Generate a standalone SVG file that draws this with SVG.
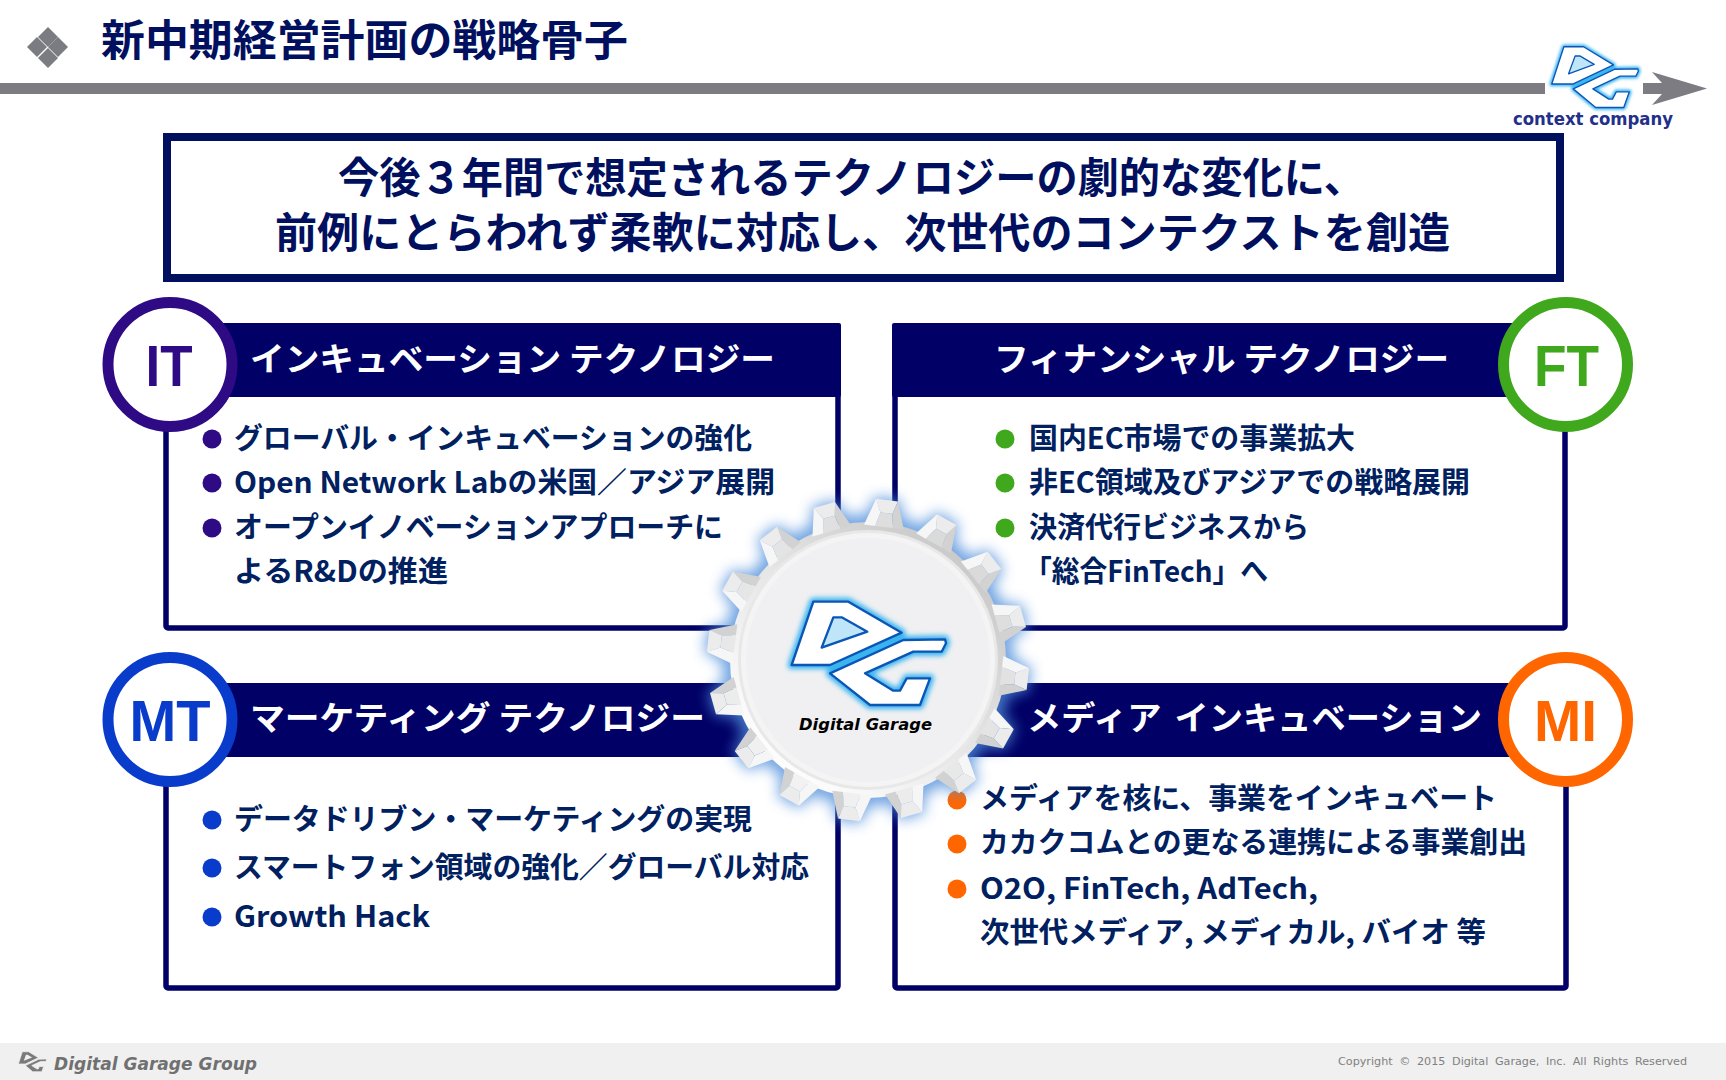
<svg xmlns="http://www.w3.org/2000/svg" width="1726" height="1080" viewBox="0 0 1726 1080">
<style>
text{font-family:"Noto Sans CJK JP","Noto Sans",sans-serif;font-weight:700}
.head{fill:#00105e;font-size:42px}
.hdr{fill:#fff;font-size:33px}
.li{fill:#002060;font-size:29px}
.badge{font-family:"Liberation Sans",Arial,sans-serif;font-size:57px;text-anchor:middle}
.panel{fill:#fff;stroke:#000066;stroke-width:5.5}
.band{fill:#000066}
.ring{fill:#fff;stroke-width:11}
.it{fill:#2e0a85;stroke:#2e0a85}.ft{fill:#3fa81c;stroke:#3fa81c}.mt{fill:#0a3ccc;stroke:#0a3ccc}.mi{fill:#ff6600;stroke:#ff6600}
.ring.it,.ring.ft,.ring.mt,.ring.mi{fill:#fff}
.t{stroke:none}
.dot{stroke:none}
</style>
<defs>
<filter id="blur8" x="-30%" y="-30%" width="160%" height="160%"><feGaussianBlur stdDeviation="7"/></filter>
<filter id="blur3" x="-20%" y="-20%" width="140%" height="140%"><feGaussianBlur stdDeviation="8"/></filter>
<linearGradient id="rim" x1="0.85" y1="0.1" x2="0.15" y2="0.9"><stop offset="0" stop-color="#c8c8c8"/><stop offset="0.5" stop-color="#e6e6e6"/><stop offset="1" stop-color="#ffffff"/></linearGradient>
<polygon id="sil" points="-20,-134 -11,-161 11,-161 20,-134"/>
<g id="tooth">
<polygon points="-20,-134 -11,-161 -5,-148 -9,-134" fill="#f6f6f6"/>
<polygon points="11,-161 20,-134 9,-134 7,-148" fill="#d2d2d2"/>
<polygon points="-11,-161 11,-161 7,-148 -5,-148" fill="#ececec"/>
<polygon points="-9,-134 -5,-148 7,-148 9,-134"/>
</g>
<path id="logoD" d="M400 365H505L665 458L450 555H335Z"/>
<path id="logoG" d="M670 480L795 478L798 490L785 515H700L555 580L640 632H660L680 595H750L720 675H570L450 580Z"/>
<path id="logoH" d="M460 412H485L562 455L425 503Z"/>
<g id="logoBlue">
<g fill="#39b4f0" stroke="#39b4f0" stroke-width="24" stroke-linejoin="round" filter="url(#blur3)"><use href="#logoD"/><use href="#logoG"/></g>
<g fill="#fff" stroke="#0a55b5" stroke-width="7" stroke-linejoin="round"><use href="#logoD"/><use href="#logoG"/></g>
<use href="#logoH" fill="#bfe6f8" stroke="#0a55b5" stroke-width="7" stroke-linejoin="round"/>
</g>
</defs>

<rect width="1726" height="1080" fill="#fff"/>

<g id="title">
<polygon points="48,27 58,37 48,47 38,37" fill="#7b7b82"/>
<polygon points="37,37 47,47 37,57 27,47" fill="#7b7b82"/>
<polygon points="58,37 68,47 58,57 48,47" fill="#7b7b82"/>
<polygon points="48,48 58,58 48,68 38,58" fill="#7b7b82"/>
<text x="101" y="56" font-size="43" fill="#00105e" textLength="527" lengthAdjust="spacingAndGlyphs">新中期経営計画の戦略骨子</text>
</g>

<g id="rule">
<rect x="0" y="83" width="1545" height="11" fill="#7c7c82"/>
<rect x="1643" y="83" width="24" height="11" fill="#7c7c82"/>
<polygon points="1652,72 1707,88.500 1652,105 1667,88.500" fill="#7c7c82"/>
</g>

<g id="context-logo">
<use href="#logoBlue" transform="translate(1489.100 -24.800) scale(.187 .196)"/>
<text x="1513" y="125" font-size="18" fill="#22308a" style="font-family:'DejaVu Sans',sans-serif" textLength="160" lengthAdjust="spacingAndGlyphs">context company</text>
</g>

<g id="headline">
<rect x="167" y="137" width="1393" height="141" fill="#fff" stroke="#00105e" stroke-width="8"/>
<text class="head" x="338" y="193" textLength="1027" lengthAdjust="spacingAndGlyphs">今後３年間で想定されるテクノロジーの劇的な変化に、</text>
<text class="head" x="275" y="248" textLength="1175" lengthAdjust="spacingAndGlyphs">前例にとらわれず柔軟に対応し、次世代のコンテクストを創造</text>
</g>

<g id="node-it">
<rect class="panel" x="166" y="326" width="672" height="302" rx="2"/>
<rect class="band" x="163.500" y="323" width="677.500" height="74" rx="2"/>
<text class="hdr" x="250" y="371" textLength="525" lengthAdjust="spacingAndGlyphs">インキュベーション テクノロジー</text>
<circle class="ring it" cx="170" cy="364.500" r="62"/>
<text class="badge it t" x="169" y="386" textLength="47" lengthAdjust="spacingAndGlyphs">IT</text>
<circle class="dot it" cx="212" cy="439" r="9.500"/><circle class="dot it" cx="212" cy="483" r="9.500"/><circle class="dot it" cx="212" cy="528" r="9.500"/>
<text class="li" x="234" y="449" textLength="518" lengthAdjust="spacingAndGlyphs">グローバル・インキュベーションの強化</text>
<text class="li" x="234" y="493" textLength="541" lengthAdjust="spacingAndGlyphs">Open Network Labの米国／アジア展開</text>
<text class="li" x="234" y="538" textLength="489" lengthAdjust="spacingAndGlyphs">オープンイノベーションアプローチに</text>
<text class="li" x="234" y="582" textLength="214" lengthAdjust="spacingAndGlyphs">よるR&amp;Dの推進</text>
</g>

<g id="node-ft">
<rect class="panel" x="895" y="326" width="670" height="302" rx="2"/>
<rect class="band" x="892" y="323" width="676" height="74" rx="2"/>
<text class="hdr" x="994" y="371" textLength="455" lengthAdjust="spacingAndGlyphs">フィナンシャル テクノロジー</text>
<circle class="ring ft" cx="1565.500" cy="364.500" r="62"/>
<text class="badge ft t" x="1566.500" y="386" textLength="65" lengthAdjust="spacingAndGlyphs">FT</text>
<circle class="dot ft" cx="1005" cy="439" r="9.500"/><circle class="dot ft" cx="1005" cy="483" r="9.500"/><circle class="dot ft" cx="1005" cy="528" r="9.500"/>
<text class="li" x="1029" y="449" textLength="326" lengthAdjust="spacingAndGlyphs">国内EC市場での事業拡大</text>
<text class="li" x="1029" y="493" textLength="441" lengthAdjust="spacingAndGlyphs">非EC領域及びアジアでの戦略展開</text>
<text class="li" x="1029" y="538" textLength="280" lengthAdjust="spacingAndGlyphs">決済代行ビジネスから</text>
<text class="li" x="1024" y="582" textLength="244" lengthAdjust="spacingAndGlyphs">「総合FinTech」へ</text>
</g>

<g id="node-mt">
<rect class="panel" x="166" y="686" width="672" height="302" rx="2"/>
<rect class="band" x="163.500" y="683" width="677.500" height="74" rx="2"/>
<text class="hdr" x="250" y="730" textLength="455" lengthAdjust="spacingAndGlyphs">マーケティング テクノロジー</text>
<circle class="ring mt" cx="170" cy="719.500" r="62"/>
<text class="badge mt t" x="170" y="741" textLength="81" lengthAdjust="spacingAndGlyphs">MT</text>
<circle class="dot mt" cx="212" cy="820" r="9.500"/><circle class="dot mt" cx="212" cy="868" r="9.500"/><circle class="dot mt" cx="212" cy="917" r="9.500"/>
<text class="li" x="234" y="830" textLength="518" lengthAdjust="spacingAndGlyphs">データドリブン・マーケティングの実現</text>
<text class="li" x="234" y="878" textLength="575" lengthAdjust="spacingAndGlyphs">スマートフォン領域の強化／グローバル対応</text>
<text class="li" x="234" y="927" textLength="196" lengthAdjust="spacingAndGlyphs">Growth Hack</text>
</g>

<g id="node-mi">
<rect class="panel" x="895" y="686" width="671" height="302" rx="2"/>
<rect class="band" x="892" y="683" width="677" height="74" rx="2"/>
<text class="hdr" x="1027" y="730" style="word-spacing:5px" textLength="455" lengthAdjust="spacingAndGlyphs">メディア インキュベーション</text>
<circle class="ring mi" cx="1565.500" cy="719.500" r="62"/>
<text class="badge mi t" x="1565.500" y="741" textLength="63" lengthAdjust="spacingAndGlyphs">MI</text>
<circle class="dot mi" cx="957" cy="800" r="9.500"/><circle class="dot mi" cx="957" cy="844" r="9.500"/><circle class="dot mi" cx="957" cy="889" r="9.500"/>
<text class="li" x="980" y="809" textLength="517" lengthAdjust="spacingAndGlyphs">メディアを核に、事業をインキュベート</text>
<text class="li" x="980" y="853" textLength="547" lengthAdjust="spacingAndGlyphs">カカクコムとの更なる連携による事業創出</text>
<text class="li" x="980" y="899" textLength="338" lengthAdjust="spacingAndGlyphs">O2O, FinTech, AdTech,</text>
<text class="li" x="980" y="943" textLength="506" lengthAdjust="spacingAndGlyphs">次世代メディア, メディカル, バイオ 等</text>
</g>

<g id="gear" transform="translate(868 660)">
<g fill="#4f8fdc" filter="url(#blur8)" opacity=".8">
<circle r="146"/>
<g stroke="#4f8fdc" stroke-width="4">
<use href="#sil" transform="rotate(6.800)"/><use href="#sil" transform="rotate(29.300)"/><use href="#sil" transform="rotate(51.800)"/><use href="#sil" transform="rotate(74.300)"/><use href="#sil" transform="rotate(96.800)"/><use href="#sil" transform="rotate(119.300)"/><use href="#sil" transform="rotate(141.800)"/><use href="#sil" transform="rotate(164.300)"/><use href="#sil" transform="rotate(186.800)"/><use href="#sil" transform="rotate(209.300)"/><use href="#sil" transform="rotate(231.800)"/><use href="#sil" transform="rotate(254.300)"/><use href="#sil" transform="rotate(276.800)"/><use href="#sil" transform="rotate(299.300)"/><use href="#sil" transform="rotate(321.800)"/><use href="#sil" transform="rotate(344.300)"/>
</g>
</g>
<circle r="138" fill="url(#rim)"/>
<use href="#tooth" fill="#dedede" transform="rotate(6.800)"/><use href="#tooth" fill="#dadada" transform="rotate(29.300)"/><use href="#tooth" fill="#dadada" transform="rotate(51.800)"/><use href="#tooth" fill="#dedede" transform="rotate(74.300)"/><use href="#tooth" fill="#e2e2e2" transform="rotate(96.800)"/><use href="#tooth" fill="#e4e4e4" transform="rotate(119.300)"/><use href="#tooth" fill="#e8e8e8" transform="rotate(141.800)"/><use href="#tooth" fill="#ececec" transform="rotate(164.300)"/><use href="#tooth" fill="#f0f0f0" transform="rotate(186.800)"/><use href="#tooth" fill="#f2f2f2" transform="rotate(209.300)"/><use href="#tooth" fill="#f0f0f0" transform="rotate(231.800)"/><use href="#tooth" fill="#ececec" transform="rotate(254.300)"/><use href="#tooth" fill="#e8e8e8" transform="rotate(276.800)"/><use href="#tooth" fill="#e6e6e6" transform="rotate(299.300)"/><use href="#tooth" fill="#e4e4e4" transform="rotate(321.800)"/><use href="#tooth" fill="#e0e0e0" transform="rotate(344.300)"/>
<circle r="130" fill="#e8e8e8"/>
<circle r="127" fill="#f4f4f5"/>
<circle r="122" fill="#f0f0f2"/>
<use href="#logoBlue" transform="translate(-188 -180) scale(.33333)"/>
<text x="-69" y="70" font-size="15" fill="#000" style="font-family:'DejaVu Sans',sans-serif;font-style:italic" textLength="133" lengthAdjust="spacingAndGlyphs">Digital Garage</text>
</g>

<g id="footer">
<rect x="0" y="1043" width="1726" height="37" fill="#f0f0f0"/>
<g transform="translate(-2.100 1028.200) scale(.061 .0645)" fill="#7a7a7a" stroke="#f0f0f0" stroke-width="12">
<use href="#logoD"/><use href="#logoG"/><use href="#logoH" fill="#f0f0f0" stroke="none"/>
</g>
<text x="54" y="1070" font-size="18" fill="#707070" style="font-family:'DejaVu Sans',sans-serif;font-style:italic;font-weight:700" textLength="203" lengthAdjust="spacingAndGlyphs">Digital Garage Group</text>
<text x="1338" y="1065" font-size="11" fill="#808080" style="font-family:'DejaVu Sans',sans-serif;font-weight:400;word-spacing:3px" textLength="349" lengthAdjust="spacingAndGlyphs">Copyright © 2015 Digital Garage, Inc. All Rights Reserved</text>
</g>
</svg>
